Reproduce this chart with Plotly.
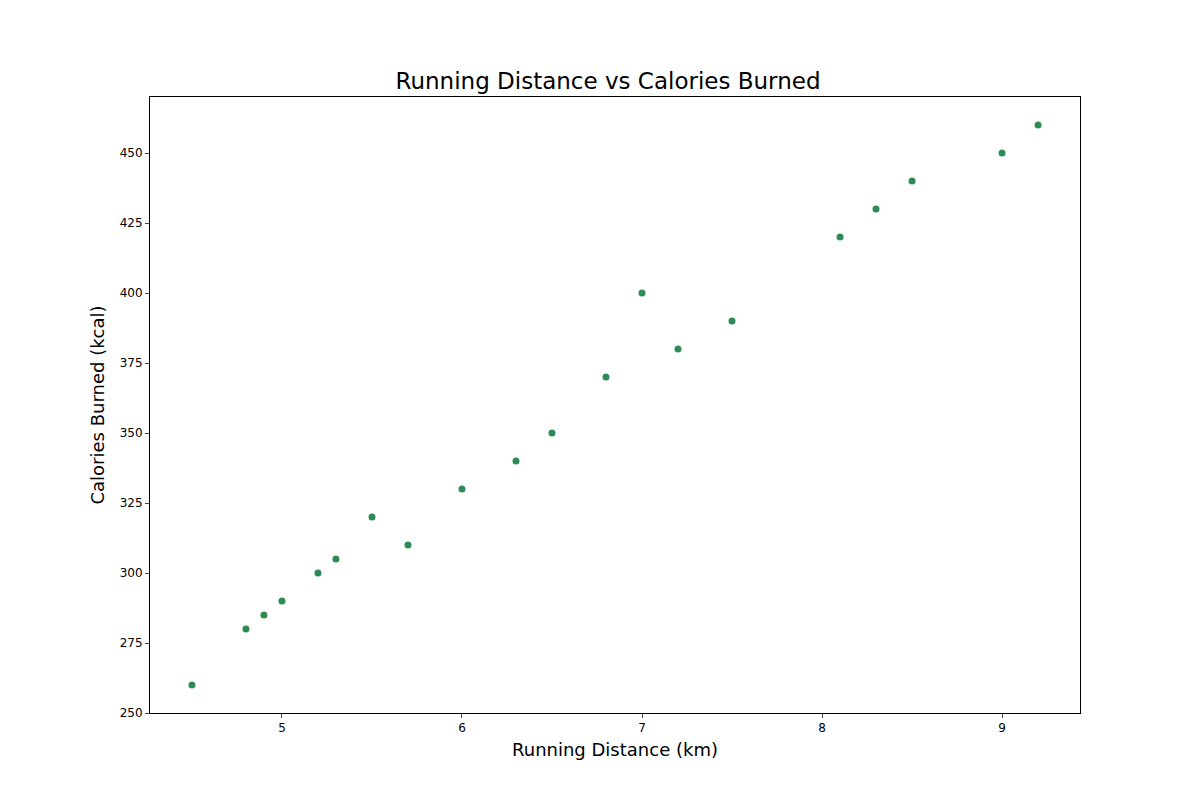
import plotly.graph_objects as go

distance_km = [4.5, 4.8, 4.9, 5.0, 5.2, 5.3, 5.5, 5.7, 6.0, 6.3, 6.5, 6.8, 7.0, 7.2, 7.5, 8.1, 8.3, 8.5, 9.0, 9.2]
calories = [260, 280, 285, 290, 300, 305, 320, 310, 330, 340, 350, 370, 400, 380, 390, 420, 430, 440, 450, 460]

fig = go.Figure(go.Scatter(
    x=distance_km, y=calories, mode="markers",
    marker=dict(color="#2e8b57", size=7),
))

axis_style = dict(showgrid=False, zeroline=False, showline=True, linecolor="black", mirror=True,
                  ticks="outside", ticklen=4, tickfont=dict(size=12, color="black"))

fig.update_layout(
    width=1200, height=800,
    paper_bgcolor="white", plot_bgcolor="white",
    font=dict(family="DejaVu Sans", color="black"),
    title=dict(text="Running Distance vs Calories Burned", x=0.5, xanchor="center",
               y=1 - 73 / 800, yanchor="middle", font=dict(size=23)),
    margin=dict(l=142, r=128, t=89, b=95),
    showlegend=False,
)
fig.update_xaxes(axis_style, range=[4.267, 9.433], dtick=1,
                 title=dict(text="Running Distance (km)", font=dict(size=18), standoff=8))
fig.update_yaxes(axis_style, range=[250, 470], dtick=25,
                 title=dict(text="Calories Burned (kcal)", font=dict(size=18), standoff=10))

fig.write_html("out.html")
